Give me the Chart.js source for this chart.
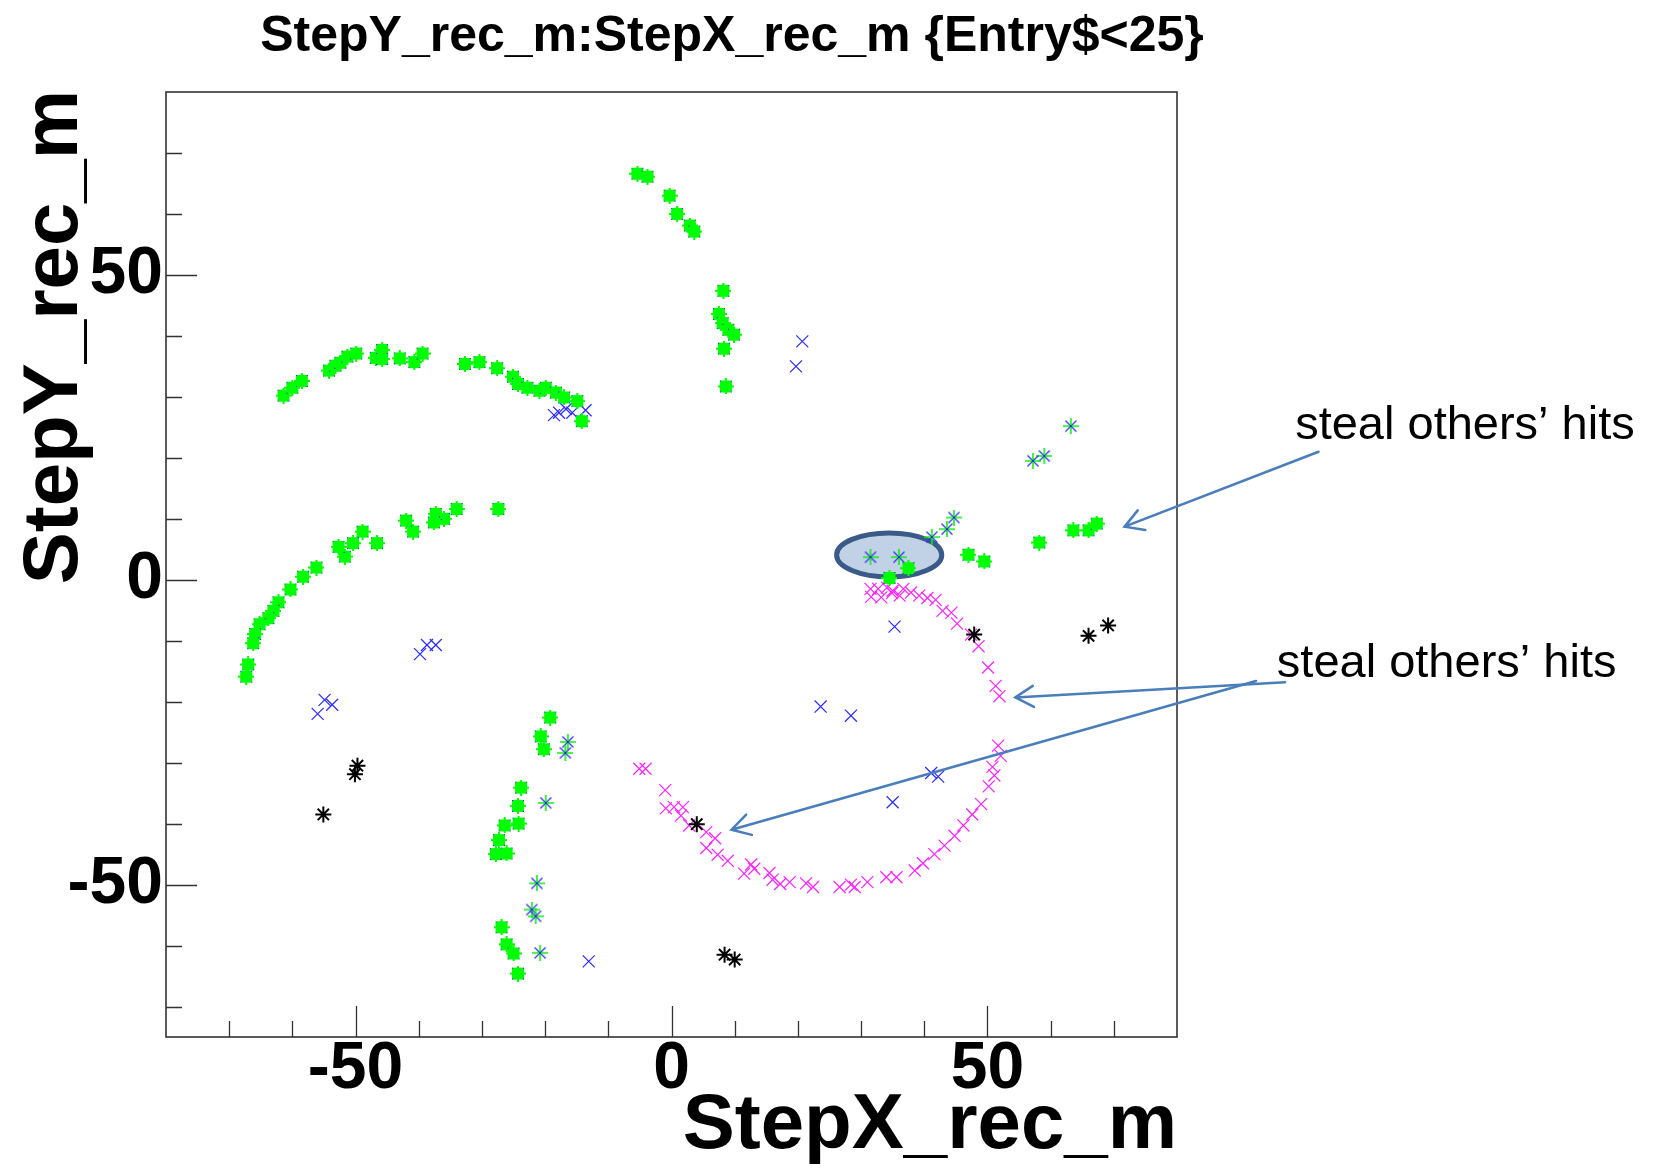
<!DOCTYPE html>
<html>
<head>
<meta charset="utf-8">
<script src="https://cdn.jsdelivr.net/npm/chart.js@4.4.1/dist/chart.umd.min.js"></script>
<style>
  body { margin: 0; background: #fff; }
  canvas { display: block; }
</style>
</head>
<body>
<canvas id="steps" width="1655" height="1168"></canvas>
<script>
// hits of the first 25 entries, StepX_rec_m vs StepY_rec_m
var trackHits = [
  [-61.4,30.2],[-60.0,31.5],[-58.5,32.6],[-54.2,34.3],[-53.2,35.1],[-52.4,35.6],[-51.3,36.6],[-49.9,37.1],
  [-46.8,36.4],[-45.8,37.7],[-45.8,36.2],[-43.0,36.3],[-40.7,35.7],[-39.4,37.1],[-32.7,35.4],[-30.4,35.7],
  [-27.6,34.7],[-25.1,33.3],[-24.3,32.1],[-22.8,31.5],[-20.9,31.0],[-19.9,31.5],[-18.3,30.7],[-17.0,29.9],
  [-14.9,29.3],[-14.2,26.0],
  [-5.4,66.6],[-3.8,66.1],[-0.3,63.0],[0.9,60.0],[2.9,58.1],[3.6,57.1],
  [8.2,47.4],[7.5,43.6],[8.1,42.1],[9.0,41.0],[9.9,40.2],[8.3,37.9],[8.6,31.7],
  [-27.4,11.6],[-34.0,11.6],[-36.0,10.0],[-37.3,10.8],[-37.6,9.4],[-40.9,7.9],[-42.0,9.7],[-46.6,6.0],
  [-48.9,7.9],[-50.4,6.0],[-51.7,3.8],[-52.7,5.4],[-56.2,2.0],[-58.3,0.5],[-60.3,-1.6],[-62.2,-3.7],
  [-63.0,-5.1],[-63.8,-6.3],[-65.2,-7.3],[-65.9,-8.9],[-66.2,-10.4],[-67.0,-13.9],[-67.3,-15.9],
  [47.0,4.1],[49.5,3.0],[58.2,6.1],[63.6,8.1],[66.0,8.1],[67.3,9.2],[37.5,1.9],[34.5,0.3],
  [-19.2,-22.6],[-20.7,-25.7],[-20.2,-27.8],[-23.8,-34.1],[-24.3,-37.1],[-24.2,-40.0],[-26.4,-40.3],
  [-27.3,-42.7],[-27.8,-45.0],[-26.1,-44.9],[-26.9,-57.0],[-26.1,-59.8],[-25.0,-61.3],[-24.3,-64.6]
];
var sharedHits = [
  [63.2,25.2],[59.0,20.3],[57.2,19.5],[41.2,7.0],[43.6,8.3],[44.7,10.2],[31.5,3.7],[36.0,3.7],
  [-16.4,-26.6],[-16.8,-28.4],[-19.9,-36.6],[-21.3,-49.8],[-22.1,-54.1],[-21.5,-55.2],[-20.8,-61.2]
];
var looseHits = [
  [-18.6,27.0],[-17.8,27.4],[-16.7,28.0],[-15.7,27.4],[-13.6,27.8],[20.7,39.1],[19.7,35.0],
  [-39.8,-12.2],[-38.7,-10.7],[-37.3,-10.7],[-56.0,-22.0],[-54.9,-19.7],[-53.7,-20.5],
  [35.3,-7.7],[23.6,-20.8],[28.4,-22.3],[41.1,-31.7],[42.2,-32.3],[35.0,-36.5],[-13.1,-62.6]
];
var loopHits = [
  [31.6,-2.8],[31.5,-1.5],[32.7,-1.5],[33.2,-2.9],[34.1,-1.3],[34.9,-2.2],[35.0,-1.8],[36.1,-2.6],
  [36.7,-1.5],[37.9,-2.1],[39.2,-2.6],[40.5,-3.0],[41.8,-3.3],[42.9,-5.1],[44.3,-5.4],[45.2,-7.2],
  [47.4,-9.0],[48.6,-10.9],[50.1,-14.4],[51.3,-17.4],[51.9,-19.1],
  [-5.1,-31.0],[-4.1,-31.0],[-1.0,-34.5],[-0.9,-37.5],[0.4,-37.3],[1.8,-37.3],[1.5,-38.7],[2.8,-40.3],
  [5.5,-41.4],[6.9,-42.4],[5.5,-44.0],[7.3,-45.1],[8.9,-46.1],[11.5,-48.2],[12.6,-46.7],[13.1,-47.4],
  [15.5,-48.1],[16.0,-49.2],[17.2,-49.9],[18.7,-49.6],[21.3,-49.8],[22.4,-50.4],[26.6,-50.4],[28.4,-50.0],
  [29.0,-50.4],[31.0,-49.6],[34.0,-48.8],[35.6,-48.8],[38.5,-47.7],[39.8,-46.5],[41.6,-45.0],[43.2,-43.6],
  [44.8,-42.0],[46.2,-40.3],[47.6,-38.5],[49.0,-36.8],[50.2,-33.9],[51.1,-32.1],[50.8,-30.7],[52.1,-28.9],
  [51.7,-27.2]
];
var noiseHits = [
  [-49.7,-30.5],[-50.1,-31.9],[-55.1,-38.5],[4.0,-40.1],[8.4,-61.5],[10.0,-62.3],[47.9,-9.0],[66.0,-9.2],[69.1,-7.5]
];

var xRange = [-80, 80];
var yRange = [-75, 80];
var majorTicks = [-50, 0, 50];
var minorTicks = [-70, -60, -40, -30, -20, -10, 10, 20, 30, 40, 60, 70];

// hits that were stolen from other tracks
var stolenArea = { x: 34.45, y: 4.07, rx: 8.32, ry: 3.6 };
var notes = [
  { text: "steal others\u2019 hits", x: 98.7, y: 23.1 },
  { text: "steal others\u2019 hits", x: 95.8, y: -16.0 }
];
var arrows = [
  { from: [102.4, 21.0], to: [71.7, 8.7] },
  { from: [97.1, -16.8], to: [54.4, -19.3] },
  { from: [92.5, -16.6], to: [9.5, -41.0] }
];

var fontName = "'Liberation Sans', Arial, Helvetica, sans-serif";

function toPoints(list) {
  return list.map(function (p) { return { x: p[0], y: p[1] }; });
}

function squareMark() {
  var c = document.createElement("canvas");
  c.width = 16; c.height = 16;
  var g = c.getContext("2d");
  g.fillStyle = "#00ff00";
  g.fillRect(2, 2, 12, 12);
  g.fillRect(7, 0, 2, 16);
  g.fillRect(0, 7, 16, 2);
  g.fillStyle = "#1a1aff";
  g.fillRect(2, 2, 1, 1); g.fillRect(13, 2, 1, 1);
  g.fillRect(2, 13, 1, 1); g.fillRect(13, 13, 1, 1);
  return c;
}

function starMark() {
  var c = document.createElement("canvas");
  c.width = 16; c.height = 16;
  var g = c.getContext("2d");
  g.strokeStyle = "#3333ff";
  g.lineWidth = 1.3;
  g.beginPath();
  g.moveTo(2.5, 2.5); g.lineTo(13.5, 13.5);
  g.moveTo(13.5, 2.5); g.lineTo(2.5, 13.5);
  g.stroke();
  g.strokeStyle = "#11ee11";
  g.lineWidth = 1.6;
  g.beginPath();
  g.moveTo(8, 0); g.lineTo(8, 16);
  g.moveTo(0, 8); g.lineTo(16, 8);
  g.stroke();
  g.fillStyle = "#2222cc";
  g.fillRect(7, 7, 2, 2);
  return c;
}

function drawArrow(ctx, x1, y1, x2, y2) {
  var ang = Math.atan2(y1 - y2, x1 - x2);
  var len = 21, spread = 30 * Math.PI / 180;
  ctx.beginPath();
  ctx.moveTo(x1, y1);
  ctx.lineTo(x2, y2);
  ctx.moveTo(x2 + len * Math.cos(ang + spread), y2 + len * Math.sin(ang + spread));
  ctx.lineTo(x2, y2);
  ctx.lineTo(x2 + len * Math.cos(ang - spread), y2 + len * Math.sin(ang - spread));
  ctx.stroke();
}

var framePlugin = {
  id: "rootFrame",
  beforeDatasetsDraw: function (chart) {
    var ctx = chart.ctx, sx = chart.scales.x, sy = chart.scales.y;
    var cx = sx.getPixelForValue(stolenArea.x);
    var cy = sy.getPixelForValue(stolenArea.y);
    var rx = sx.getPixelForValue(stolenArea.x + stolenArea.rx) - cx;
    var ry = cy - sy.getPixelForValue(stolenArea.y + stolenArea.ry);
    ctx.save();
    ctx.beginPath();
    ctx.ellipse(cx, cy, rx, ry, 0, 0, 2 * Math.PI);
    ctx.fillStyle = "#c2d2e6";
    ctx.fill();
    ctx.lineWidth = 5;
    ctx.strokeStyle = "#3a5a87";
    ctx.stroke();
    ctx.restore();
  },
  afterDraw: function (chart) {
    var ctx = chart.ctx, a = chart.chartArea, sx = chart.scales.x, sy = chart.scales.y;
    ctx.save();

    // frame and inward ticks
    ctx.strokeStyle = "#333";
    ctx.lineWidth = 1.6;
    ctx.strokeRect(a.left, a.top, a.right - a.left, a.bottom - a.top);
    ctx.lineWidth = 1.3;
    ctx.beginPath();
    majorTicks.forEach(function (v) {
      var px = Math.round(sx.getPixelForValue(v)) + 0.5;
      ctx.moveTo(px, a.bottom); ctx.lineTo(px, a.bottom - 31);
      var py = Math.round(sy.getPixelForValue(v)) + 0.5;
      ctx.moveTo(a.left, py); ctx.lineTo(a.left + 31, py);
    });
    minorTicks.forEach(function (v) {
      var px = Math.round(sx.getPixelForValue(v)) + 0.5;
      ctx.moveTo(px, a.bottom); ctx.lineTo(px, a.bottom - 16);
      var py = Math.round(sy.getPixelForValue(v)) + 0.5;
      ctx.moveTo(a.left, py); ctx.lineTo(a.left + 16, py);
    });
    ctx.stroke();

    // titles
    ctx.fillStyle = "#000";
    ctx.font = "bold 50px " + fontName;
    ctx.textAlign = "center";
    ctx.textBaseline = "alphabetic";
    ctx.fillText("StepY_rec_m:StepX_rec_m {Entry$<25}", 732, 51);

    ctx.font = "bold 78px " + fontName;
    ctx.textAlign = "right";
    ctx.fillText("StepX_rec_m", a.right, 1148);

    ctx.save();
    ctx.translate(77, a.top - 2);
    ctx.rotate(-Math.PI / 2);
    ctx.fillText("StepY_rec_m", 0, 0);
    ctx.restore();

    // annotations
    ctx.strokeStyle = "#4a7ebb";
    ctx.lineWidth = 2.5;
    ctx.lineCap = "round";
    arrows.forEach(function (ar) {
      drawArrow(ctx,
        sx.getPixelForValue(ar.from[0]), sy.getPixelForValue(ar.from[1]),
        sx.getPixelForValue(ar.to[0]), sy.getPixelForValue(ar.to[1]));
    });
    ctx.font = "47px " + fontName;
    ctx.textAlign = "left";
    notes.forEach(function (n) {
      ctx.fillText(n.text, sx.getPixelForValue(n.x), sy.getPixelForValue(n.y));
    });
    ctx.restore();
  }
};

var tickFont = { family: fontName, size: 66, weight: "bold", lineHeight: 1 };

new Chart("steps", {
  type: "scatter",
  data: {
    datasets: [{
      label: "track hits",
      data: toPoints(trackHits),
      pointStyle: squareMark()
    }, {
      label: "shared hits",
      data: toPoints(sharedHits),
      pointStyle: starMark()
    }, {
      label: "noise",
      data: toPoints(noiseHits),
      pointStyle: "star",
      pointRadius: 8,
      borderColor: "#000",
      borderWidth: 2
    }, {
      label: "unassigned",
      data: toPoints(looseHits),
      pointStyle: "crossRot",
      pointRadius: 8.5,
      borderColor: "#2a2aff",
      borderWidth: 1.2
    }, {
      label: "loop",
      data: toPoints(loopHits),
      pointStyle: "crossRot",
      pointRadius: 8.5,
      borderColor: "#ff22ff",
      borderWidth: 1.2
    }]
  },
  options: {
    responsive: false,
    animation: false,
    devicePixelRatio: 1,
    events: [],
    layout: { padding: { top: 92, right: 478, left: 0, bottom: 0 } },
    plugins: {
      legend: { display: false },
      tooltip: { enabled: false }
    },
    scales: {
      x: {
        type: "linear",
        min: xRange[0],
        max: xRange[1],
        grid: { display: false, drawTicks: false },
        border: { display: false },
        afterBuildTicks: function (s) { s.ticks = majorTicks.map(function (v) { return { value: v }; }); },
        afterFit: function (s) { s.height = 131; },
        ticks: { font: tickFont, color: "#000", padding: 0, maxRotation: 0 }
      },
      y: {
        type: "linear",
        min: yRange[0],
        max: yRange[1],
        grid: { display: false, drawTicks: false },
        border: { display: false },
        afterBuildTicks: function (s) { s.ticks = majorTicks.map(function (v) { return { value: v }; }); },
        afterFit: function (s) { s.width = 166; },
        ticks: { font: tickFont, color: "#000", padding: 3 }
      }
    }
  },
  plugins: [framePlugin]
});
</script>
</body>
</html>
